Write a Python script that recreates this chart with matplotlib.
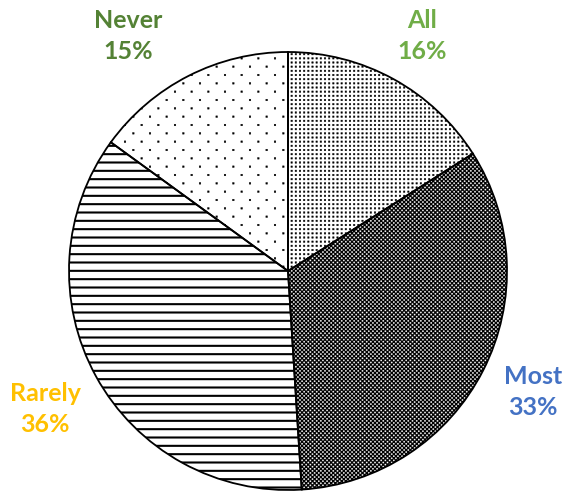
import matplotlib
matplotlib.use("Agg")
import matplotlib.pyplot as plt
from matplotlib import hatch as mhatch
from matplotlib.path import Path

# data
labels = ["All", "Most", "Rarely", "Never"]
shares = [16, 33, 36, 15]
label_colors = ["#70AD47", "#4472C4", "#FFC000", "#548235"]

# Excel-style pattern fills: '.' sparse dots, '..' fine dots, '...' checker, '--' lines
hatches = ["..", "...", "--", "."]
faces = ["white", "black", "white", "white"]
hatch_colors = ["black", "white", "black", "black"]
hatch_widths = [0.3, 0.3, 1.5, 0.3]

# label block centres, in pixels from the top-left corner
label_xy = [(422, 36), (533, 392), (45, 409), (128, 36)]


class DotPattern(mhatch.HatchPatternBase):
    """Square dots; the number of '.' picks the grid (cols, rows, half size, stagger)."""
    grids = {1: (6, 12, 0.008, True), 2: (24, 24, 0.0075, False), 3: (24, 48, 0.0055, True)}

    def __init__(self, hatch, density):
        self.grid = self.grids.get(hatch.count('.'))
        if self.grid is None:
            self.num_vertices = 0
            return
        nx, ny, h, stagger = self.grid
        self.centers = []
        for j in range(ny + 1):
            shift = 0.5 if (stagger and j % 2) else 0.0
            for i in range(-1, nx + 1):
                self.centers.append(((i + shift) / nx, j / ny))
        self.num_vertices = len(self.centers) * 5

    def set_vertices_and_codes(self, vertices, codes):
        h = self.grid[2]
        sq = [(-h, -h), (h, -h), (h, h), (-h, h), (-h, -h)]
        k = 0
        for cx, cy in self.centers:
            for dx, dy in sq:
                vertices[k] = (cx + dx, cy + dy)
                k += 1
        codes[:] = ([Path.MOVETO] + [Path.LINETO] * 3 + [Path.CLOSEPOLY]) * len(self.centers)


mhatch._hatch_types = [t for t in mhatch._hatch_types
                       if t is not mhatch.SmallFilledCircles] + [DotPattern]

W, H = 565, 497
fig = plt.figure(figsize=(W / 100, H / 100), dpi=100)
ax = fig.add_axes([0, 0, 1, 1])

center = (288, H - 271)
radius = 219

wedges, texts = ax.pie(
    shares,
    labels=[f"{l}\n{s}%" for l, s in zip(labels, shares)],
    startangle=90,
    counterclock=False,
    center=center,
    radius=radius,
    wedgeprops=dict(linewidth=0),
)
for w, fc, hc, h, hw in zip(wedges, faces, hatch_colors, hatches, hatch_widths):
    w.set_facecolor(fc)
    w.set_edgecolor(hc)
    w.set_hatch(h)
    if hasattr(w, "set_hatch_linewidth"):
        w.set_hatch_linewidth(hw)

# outlines
ax.pie(
    shares,
    startangle=90,
    counterclock=False,
    center=center,
    radius=radius,
    wedgeprops=dict(fill=False, edgecolor="black", linewidth=1.3),
)

for t, c, (x, y) in zip(texts, label_colors, label_xy):
    t.set_position((x, H - y))
    t.set_color(c)
    t.set_fontfamily("Lato")
    t.set_fontweight("bold")
    t.set_fontsize(18)
    t.set_horizontalalignment("center")
    t.set_verticalalignment("center")
    t.set_multialignment("center")
    t.set_linespacing(1.4)

ax.set_xlim(0, W)
ax.set_ylim(0, H)
ax.set_aspect("equal")
ax.axis("off")

fig.savefig("out.png", dpi=100)
